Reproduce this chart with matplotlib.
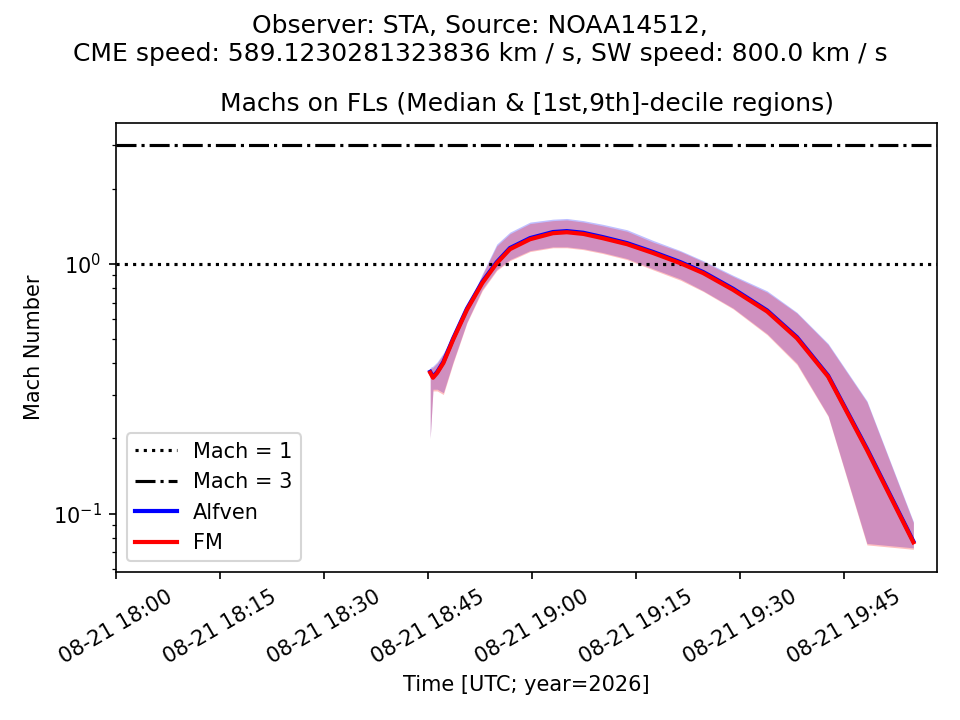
import matplotlib
matplotlib.use("Agg")
import matplotlib.pyplot as plt
import matplotlib.dates as mdates
import numpy as np
import pandas as pd

# minutes after 2026-08-21 18:00 UTC
minutes = [45.3, 45.7, 46.3, 47.2, 48.6, 50.6, 52.8, 54.9, 56.8, 59.7, 63.0, 65.0,
           67.4, 70.2, 73.7, 77.5, 81.4, 84.7, 89.0, 93.9, 98.2, 102.7, 108.3, 115.0]

# FM mach: median, 1st decile, 9th decile
fm_med = [0.367, 0.350, 0.366, 0.401, 0.497, 0.655, 0.837, 1.006, 1.145, 1.255, 1.327, 1.339,
          1.318, 1.267, 1.199, 1.104, 1.006, 0.918, 0.787, 0.645, 0.504, 0.354, 0.180, 0.0768]
fm_lo = [0.20, 0.31, 0.31, 0.30, 0.40, 0.58, 0.78, 0.94, 1.03, 1.12, 1.16, 1.16,
         1.14, 1.10, 1.04, 0.945, 0.86, 0.775, 0.66, 0.52, 0.395, 0.245, 0.075, 0.072]
fm_hi = [0.38, 0.385, 0.40, 0.435, 0.51, 0.66, 0.90, 1.18, 1.32, 1.45, 1.49, 1.50,
         1.47, 1.42, 1.35, 1.22, 1.12, 1.02, 0.89, 0.77, 0.635, 0.475, 0.28, 0.092]

# Alfven mach: median, 1st decile, 9th decile
alf_med = [0.370, 0.353, 0.369, 0.405, 0.502, 0.662, 0.846, 1.016, 1.157, 1.268, 1.341, 1.353,
           1.332, 1.280, 1.211, 1.115, 1.016, 0.927, 0.795, 0.651, 0.509, 0.357, 0.182, 0.0775]
alf_lo = [0.20, 0.315, 0.315, 0.305, 0.405, 0.585, 0.79, 0.95, 1.04, 1.13, 1.17, 1.17,
          1.15, 1.11, 1.05, 0.955, 0.87, 0.78, 0.665, 0.525, 0.40, 0.247, 0.076, 0.073]
alf_hi = [0.385, 0.39, 0.405, 0.44, 0.52, 0.67, 0.91, 1.20, 1.34, 1.47, 1.51, 1.52,
          1.49, 1.44, 1.37, 1.24, 1.13, 1.03, 0.90, 0.78, 0.64, 0.48, 0.283, 0.093]

t0 = pd.Timestamp("2026-08-21 18:00")
times = [t0 + pd.Timedelta(minutes=m) for m in minutes]

fig, ax = plt.subplots(figsize=(6.4, 4.8), dpi=150)
fig.subplots_adjust(left=0.121, right=0.976, top=0.829, bottom=0.206)

ax.axhline(1, color="k", linestyle=":", label="Mach = 1")
ax.axhline(3, color="k", linestyle="-.", label="Mach = 3")

ax.fill_between(times, alf_lo, alf_hi, color="blue", alpha=0.25, linewidth=0)
ax.plot(times, alf_med, color="blue", linewidth=2, label="Alfven")
ax.fill_between(times, fm_lo, fm_hi, color="red", alpha=0.25, linewidth=0)
ax.plot(times, fm_med, color="red", linewidth=2, label="FM")

ax.set_yscale("log")
ax.set_ylim(0.0586, 3.66)
ax.set_xlim(t0, t0 + pd.Timedelta(minutes=118.4))

ax.xaxis.set_major_locator(mdates.MinuteLocator(byminute=[0, 15, 30, 45]))
ax.xaxis.set_major_formatter(mdates.DateFormatter("%m-%d %H:%M"))
plt.setp(ax.get_xticklabels(), rotation=30, ha="center")

ax.set_xlabel("Time [UTC; year=2026]")
ax.set_ylabel("Mach Number")
ax.set_title("Machs on FLs (Median & [1st,9th]-decile regions)")
fig.suptitle("Observer: STA, Source: NOAA14512,\n"
             "CME speed: 589.1230281323836 km / s, SW speed: 800.0 km / s")
ax.legend(loc="lower left")

fig.savefig("out.png")
